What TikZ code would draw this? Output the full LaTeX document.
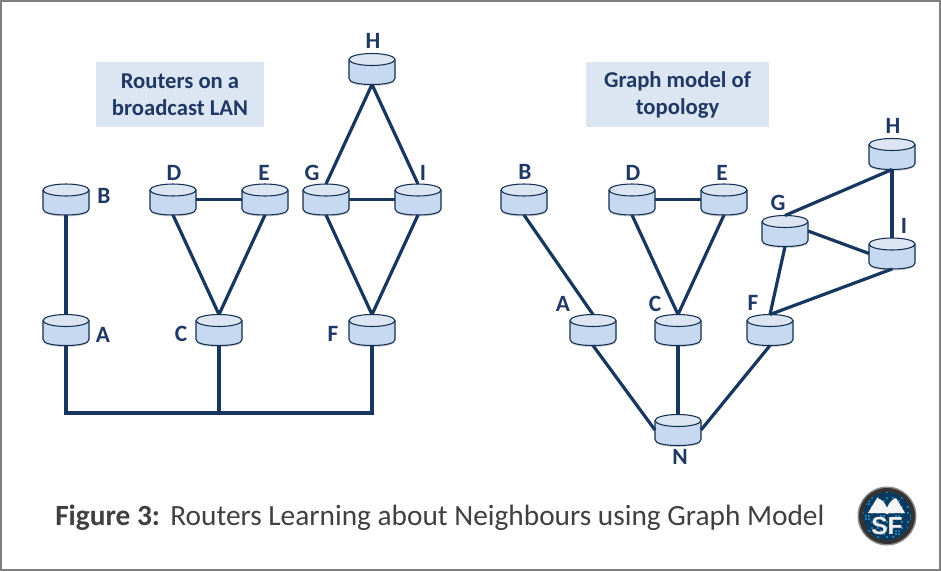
\documentclass[tikz,border=0pt]{standalone}
\usepackage{fontspec}
\setmainfont{Carlito}
\newfontfamily\logofont{Liberation Sans}
\definecolor{navy}{HTML}{17375E}
\definecolor{routerbody}{HTML}{C6D9F1}
\definecolor{routertop}{HTML}{DCE6F2}
\definecolor{titlefill}{HTML}{DCE6F2}
\definecolor{captiontext}{HTML}{404040}
\definecolor{framegray}{HTML}{7F7F7F}
\definecolor{labeltext}{HTML}{1F3864}
\definecolor{logodeep}{HTML}{0B3A5E}
\definecolor{logobit}{HTML}{1F7FB5}
\tikzset{
  routeredge/.style={draw=navy!85!black, line width=0.8pt},
  routeranchor/.style={rectangle, minimum width=34.5pt, minimum height=23.25pt, inner sep=0pt, outer sep=0pt},
  link/.style={draw=navy, line width=2.4pt},
  rlabel/.style={font=\fontsize{17.5}{18}\selectfont\bfseries, text=labeltext, inner sep=0pt},
  titlebox/.style={fill=titlefill, text=labeltext, align=center, inner sep=0pt,
    font=\fontsize{17}{20.25}\selectfont\bfseries},
  caption/.style={font=\fontsize{22}{26}\selectfont, text=captiontext, inner sep=0pt, anchor=west},
}
\newcommand{\routerat}[3]{%
  \begin{scope}[shift={(#2,#3)}]
    \fill[black, opacity=0.18] (-23,-8) -- (-23,11) .. controls (-23,15.1) and (-12.7,17) .. (0,17) .. controls (12.7,17) and (23,15.1) .. (23,11) -- (23,-8) -- cycle;
    \path[routeredge, fill=routerbody] (-23,-9.5) -- (-23,9.5) .. controls (-23,13.6) and (-12.7,15.5) .. (0,15.5) .. controls (12.7,15.5) and (23,13.6) .. (23,9.5) -- (23,-9.5);
    \fill[routerbody] (-23,-9.5) rectangle (23,-9);
    \path[routeredge, fill=routertop] (0,-9.5) ellipse [x radius=23, y radius=6];
  \end{scope}
  \node[routeranchor] (#1) at (#2,#3) {};
}
\begin{document}
\begin{tikzpicture}[x=0.75pt,y=-0.75pt]
\useasboundingbox (0,0) rectangle (941,571);
\fill[white] (0,0) rectangle (941,571);
\draw[framegray, line width=1.5pt] (1,1) rectangle (939.5,570);

\node[titlebox, minimum width=126pt, minimum height=48.75pt] (t1) at (180,94.5) {Routers on a\\broadcast LAN};
\node[titlebox, minimum width=137.25pt, minimum height=48.75pt] (t2) at (677.5,94.5) {Graph model of\\topology};

\coordinate (bus) at (219,413);
\routerat{LB}{66}{199.5}
\routerat{LA}{66}{330}
\routerat{LD}{173}{199.5}
\routerat{LE}{265}{199.5}
\routerat{LC}{219}{330}
\routerat{LG}{326}{199.5}
\routerat{LI}{418}{199.5}
\routerat{LF}{372}{330}
\routerat{LH}{372}{69}
\routerat{RB}{524}{199.5}
\routerat{RD}{632}{199.5}
\routerat{RE}{724}{199.5}
\routerat{RA}{593}{330}
\routerat{RC}{678}{330}
\routerat{RF}{770}{330}
\routerat{RN}{678}{430}
\routerat{RG}{785}{231}
\routerat{RI}{892}{253.5}
\routerat{RH}{892}{154}

\draw[link] (LB.south) -- (LA.north);
\draw[link] (LD.east) -- (LE.west);
\draw[link] (LD.south) -- (LC.north);
\draw[link] (LE.south) -- (LC.north);
\draw[link] (LG.east) -- (LI.west);
\draw[link] (LH.south) -- (LG.north);
\draw[link] (LH.south) -- (LI.north);
\draw[link] (LG.south) -- (LF.north);
\draw[link] (LI.south) -- (LF.north);
\draw[link] (LA.south) |- (bus) -| (LF.south);
\draw[link] (LC.south) -- (bus);

\draw[link] (RB.south) -- (RA.north);
\draw[link] (RD.east) -- (RE.west);
\draw[link] (RD.south) -- (RC.north);
\draw[link] (RE.south) -- (RC.north);
\draw[link] (RA.south) -- (RN.west);
\draw[link] (RC.south) -- (RN.north);
\draw[link] (RF.south) -- (RN.east);
\draw[link] (RG.north) -- (RH.south);
\draw[link] (RH.south) -- (RI.north);
\draw[link] (RG.east) -- (RI.west);
\draw[link] (RG.south) -- (RF.north);
\draw[link] (RI.south) -- (RF.north);

\begin{scope}[every node/.append style={rlabel}]
\node (lbB) at (104,196) {B};
\node (lbA) at (103,335) {A};
\node (lbD) at (174,173) {D};
\node (lbE) at (264,173) {E};
\node (lbC) at (181,334) {C};
\node (lbG) at (312,173) {G};
\node (lbI) at (423,173) {I};
\node (lbF) at (333,334) {F};
\node (lbH) at (373,41) {H};
\node (rbB) at (525,172) {B};
\node (rbD) at (633,173) {D};
\node (rbE) at (722,173) {E};
\node (rbA) at (563,304) {A};
\node (rbC) at (655,304) {C};
\node (rbF) at (753,303) {F};
\node (rbN) at (680,457) {N};
\node (rbG) at (778,203) {G};
\node (rbI) at (904,226) {I};
\node (rbH) at (893,126) {H};
\end{scope}

\node[caption] (cap) at (55,518) {\textbf{Figure 3:}\hspace{0.35em}Routers Learning about Neighbours using Graph Model};

% logo
\fill[black!45] (887,516) circle (29.5);
\fill[black!80] (887,516) circle (28);
\fill[logodeep] (887,516) circle (24);
\begin{scope}
\clip (887,516) circle (24);
\foreach \i in {0,...,16}{
  \foreach \j in {0,...,16}{
    \pgfmathsetmacro{\bitval}{mod(\i*7+\j*13+\i*\j*3,5)}
    \ifdim\bitval pt<2pt
      \fill[logobit] (862+\i*3,491+\j*3) rectangle +(1.6,1.8);
    \fi
  }
}
\end{scope}
\fill[white!92!gray] (868,513) -- (877,498) .. controls (881,499) and (885,502) .. (887,508) .. controls (889,502) and (893,499) .. (896,498) -- (905,513) -- (890,513) -- (887,514) -- (884,513) -- cycle;
\node[inner sep=0pt, text=white!88!gray, font=\logofont\fontsize{18.5}{18}\selectfont\bfseries] (logo) at (887,526) {SF};
\end{tikzpicture}
\end{document}
